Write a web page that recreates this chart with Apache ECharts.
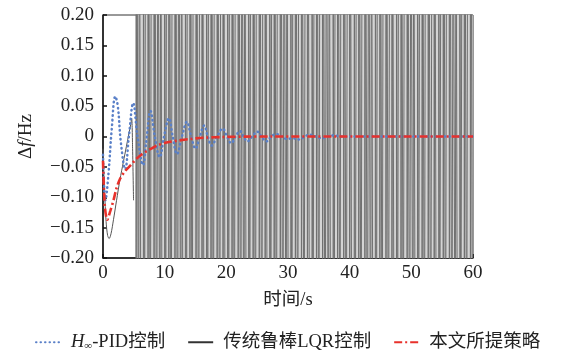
<!DOCTYPE html>
<html>
<head>
<meta charset="utf-8">
<script src="https://cdn.jsdelivr.net/npm/echarts@6/dist/echarts.min.js"></script>
<style>
  html, body { margin: 0; padding: 0; background: #fff; }
  #main { width: 561px; height: 351px; }
</style>
</head>
<body>
<div id="main"></div>
<script>
// series names
var pidName = 'H∞-PID控制';
var lqrName = '传统鲁棒LQR控制';
var oursName = '本文所提策略';

// H∞-PID (blue dotted)
var pidT = [0, 0.4, 0.9, 1.4, 2.0, 2.4, 2.9, 3.6, 4.2, 4.9, 5.6, 6.5, 7.0, 7.7, 8.4, 9.2, 9.9, 10.7, 11.3, 12.0, 12.8, 13.6, 14.3, 15.0, 15.7, 16.4, 17.0, 17.6, 18.5, 19.4, 20.1, 20.8, 21.5, 22.2, 22.8, 23.4, 24.2, 25.0, 25.7, 26.5, 27.3, 28.1, 29.0, 29.8, 30.8, 31.9, 32.7, 33.5, 34.5, 35.5, 36.5, 37.5, 38.5, 40, 60];
var pidV = [-0.03, -0.105, -0.06, 0.01, 0.066, 0.05, -0.01, -0.054, 0.0, 0.055, 0.0, -0.047, -0.01, 0.042, 0.0, -0.034, 0.0, 0.03, 0.0, -0.029, 0.0, 0.024, 0.0, -0.02, 0.0, 0.018, 0.0, -0.015, 0.0, 0.013, 0.0, -0.011, 0.0, 0.009, 0.0, -0.008, 0.0, 0.008, 0.0, -0.008, 0.0, 0.004, 0.0, -0.004, -0.003, -0.005, 0.0, 0.003, 0.0, -0.003, 0.0, 0.002, 0.0, 0, 0];

// traditional robust LQR (gray), before it goes unstable
var lqrT = [0, 0.25, 0.5, 0.75, 1.0, 1.3, 1.7, 2.2, 2.75, 3.3, 3.8, 4.2, 4.5, 4.65, 4.8, 4.95];
var lqrV = [-0.02, -0.09, -0.14, -0.163, -0.168, -0.16, -0.137, -0.105, -0.071, -0.042, -0.016, 0.005, 0.02, 0.03, -0.02, -0.105];
// after ~5.3 s the LQR response swings far beyond the axis range
var lqrSwingT = [5.35, 5.49, 5.77, 5.90, 6.18, 6.55, 6.71, 6.92, 7.29, 7.40, 7.67, 7.85, 8.26, 8.41, 8.69, 8.92, 9.23, 9.37, 9.60, 9.99, 10.15, 10.33, 10.66, 10.78, 11.05, 11.24, 11.65, 11.80, 12.08, 12.30, 12.62, 12.74, 12.99, 13.36, 13.52, 13.71, 14.08, 14.21, 14.45, 14.66, 15.07, 15.20, 15.51, 15.70, 16.04, 16.17, 16.40, 16.79, 16.95, 17.16, 17.50, 17.63, 17.90, 18.08, 18.49, 18.62, 18.92, 19.12, 19.45, 19.58, 19.83, 20.20, 20.36, 20.55, 20.91, 21.03, 21.30, 21.48, 21.90, 22.04, 22.33, 22.55, 22.86, 23.00, 23.25, 23.61, 23.78, 23.97, 24.33, 24.45, 24.72, 24.90, 25.32, 25.45, 25.75, 25.95, 26.28, 26.41, 26.65, 27.03, 27.19, 27.40, 27.74, 27.86, 28.12, 28.31, 28.73, 28.87, 29.16, 29.38, 29.70, 29.83, 30.08, 30.45, 30.61, 30.82, 31.18, 31.30, 31.57, 31.76, 32.17, 32.30, 32.60, 32.81, 33.14, 33.27, 33.51, 33.89, 34.05, 34.26, 34.61, 34.73, 35.00, 35.18, 35.60, 35.73, 36.02, 36.24, 36.56, 36.69, 36.94, 37.31, 37.47, 37.68, 38.03, 38.15, 38.42, 38.60, 39.02, 39.15, 39.44, 39.66, 39.99, 40.12, 40.36, 40.74, 40.90, 41.11, 41.46, 41.58, 41.85, 42.03, 42.45, 42.58, 42.87, 43.09, 43.41, 43.54, 43.79, 44.16, 44.32, 44.53, 44.88, 45.00, 45.27, 45.45, 45.87, 46.00, 46.29, 46.51, 46.84, 46.97, 47.21, 47.59, 47.75, 47.96, 48.31, 48.43, 48.70, 48.88, 49.30, 49.43, 49.72, 49.94, 50.26, 50.39, 50.64, 51.01, 51.17, 51.38, 51.73, 51.85, 52.12, 52.30, 52.72, 52.85, 53.14, 53.36, 53.69, 53.82, 54.06, 54.44, 54.60, 54.81, 55.16, 55.28, 55.55, 55.73, 56.15, 56.28, 56.57, 56.79, 57.11, 57.24, 57.49, 57.86, 58.02, 58.23, 58.58, 58.70, 58.97, 59.15, 59.57, 59.70, 59.93];
var lqrSwingAmp = 0.5; // off-scale

// proposed strategy (red dash-dot)
var oursT = [0, 0.3, 0.7, 1.2, 1.7, 2.2, 2.75, 3.5, 4.6, 5.5, 6.2, 7.1, 8.0, 9.0, 10.3, 12.0, 14.1, 16.5, 19.5, 23.0, 27.0, 60];
var oursV = [-0.04, -0.115, -0.137, -0.122, -0.105, -0.085, -0.07, -0.058, -0.046, -0.036, -0.03, -0.024, -0.019, -0.014, -0.01, -0.007, -0.004, -0.002, -0.0008, -0.0002, 0, 0];

// axis ticks
var xMin = 0, xMax = 60, xStep = 10;
var yMin = -0.2, yMax = 0.2, yStep = 0.05;

function zip(xs, ys) {
  return xs.map(function (x, i) { return [x, ys[i]]; });
}
var swingData = [];
lqrSwingT.forEach(function (t, i) {
  var s = i % 2 === 0 ? 1 : -1;
  swingData.push([t, s * lqrSwingAmp]);
  swingData.push([t, -s * lqrSwingAmp]);
});

var serif = '"Liberation Serif", "Noto Sans CJK SC", serif';
var txt = '#222';
var chart = echarts.init(document.getElementById('main'));
var option = {
  animation: false,
  grid: {
    left: 103, right: 88, top: 15, bottom: 93,
    show: true, borderColor: '#333', borderWidth: 1
  },
  legend: {
    left: 30, top: 328,
    itemWidth: 25, itemHeight: 10, itemGap: 22,
    itemStyle: { opacity: 0 },
    data: [
      pidName,
      { name: lqrName, lineStyle: { color: '#333', width: 2, type: 'solid' } },
      oursName
    ],
    textStyle: {
      fontFamily: serif, fontSize: 18.5, color: txt, padding: [0, 0, 0, 5],
      rich: {
        i: { fontFamily: serif, fontStyle: 'italic', fontSize: 18.5, color: txt },
        s: { fontFamily: serif, fontSize: 11, color: txt, padding: [8, 0, 0, 0] },
        n: { fontFamily: serif, fontSize: 18.5, color: txt }
      }
    },
    formatter: function (name) {
      if (name === pidName) return '{i|H}{s|∞}{n|-PID控制}';
      return name;
    }
  },
  xAxis: {
    type: 'value', min: xMin, max: xMax, interval: xStep,
    name: '时间/s', nameLocation: 'middle', nameGap: 33,
    nameTextStyle: { fontFamily: serif, fontSize: 18.5, color: txt },
    axisLine: { onZero: false, lineStyle: { color: '#111', width: 1.5 } },
    axisTick: { inside: true, length: 4, lineStyle: { color: '#111', width: 1.5 } },
    axisLabel: { fontFamily: serif, fontSize: 19, color: txt, margin: 6 },
    splitLine: { show: false }
  },
  yAxis: {
    type: 'value', min: yMin, max: yMax, interval: yStep,
    name: '{d|Δ}{f|f}{d|/Hz}', nameLocation: 'middle', nameGap: 67, nameRotate: 90,
    nameTextStyle: {
      rich: {
        d: { fontFamily: serif, fontSize: 19, color: txt },
        f: { fontFamily: serif, fontSize: 19, fontStyle: 'italic', color: txt }
      }
    },
    axisLine: { onZero: false, lineStyle: { color: '#111', width: 1.5 } },
    axisTick: { inside: true, length: 4, lineStyle: { color: '#111', width: 1.5 } },
    axisLabel: {
      fontFamily: serif, fontSize: 19, color: txt, margin: 9,
      formatter: function (v) {
        if (Math.abs(v) < 1e-9) return '0';
        return (v < 0 ? '−' : '') + Math.abs(v).toFixed(2);
      }
    },
    splitLine: { show: false }
  },
  series: [
    {
      name: lqrName, type: 'line', symbol: 'none', clip: true,
      data: swingData,
      itemStyle: { color: '#555' },
      lineStyle: { color: '#707070', width: 1 },
      markArea: {
        silent: true,
        itemStyle: { color: '#d4d4d4' },
        data: [[{ xAxis: lqrSwingT[0] }, { xAxis: lqrSwingT[lqrSwingT.length - 1] }]]
      },
      z: 1
    },
    {
      name: lqrName, type: 'line', symbol: 'none', smooth: 0.3, clip: true,
      data: zip(lqrT, lqrV),
      itemStyle: { color: '#555' },
      lineStyle: { color: '#555', width: 1 },
      z: 2
    },
    {
      name: pidName, type: 'line', symbol: 'none', smooth: 0.4, clip: true,
      data: zip(pidT, pidV),
      itemStyle: { color: '#5a80c8' },
      lineStyle: { color: '#5a80c8', width: 2.5, type: [0.5, 4], cap: 'round' },
      z: 3
    },
    {
      name: oursName, type: 'line', symbol: 'none', smooth: 0.3, clip: true,
      data: zip(oursT, oursV),
      itemStyle: { color: '#e8312b' },
      lineStyle: { color: '#e8312b', width: 2.6, type: [8, 3, 2, 3] },
      z: 4
    }
  ]
};
chart.setOption(option);
</script>
</body>
</html>
